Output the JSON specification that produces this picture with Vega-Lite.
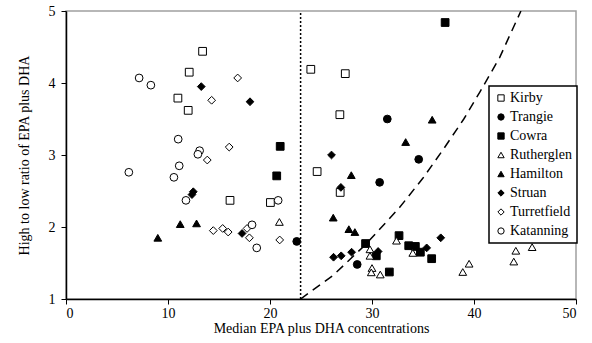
{
  "$schema": "https://vega.github.io/schema/vega-lite/v6.json",
  "width": 510,
  "height": 288,
  "autosize": {"type": "none"},
  "padding": {"left": 66, "top": 11, "right": 16, "bottom": 44},
  "background": "white",
  "config": {
    "view": {"stroke": "#a0a0a0", "strokeWidth": 1.5},
    "font": "Liberation Serif",
    "axis": {
      "grid": false,
      "domainColor": "black",
      "domainWidth": 1.5,
      "tickColor": "black",
      "tickSize": 5,
      "labelFont": "Liberation Serif",
      "titleFont": "Liberation Serif",
      "labelFontSize": 14,
      "titleFontSize": 14,
      "titleFontWeight": "normal",
      "labelColor": "black",
      "titleColor": "black"
    },
    "legend": {
      "labelFont": "Liberation Serif",
      "labelFontSize": 14,
      "labelColor": "black",
      "strokeColor": "black",
      "strokeWidth": 1.5,
      "fillColor": "white",
      "padding": 5,
      "rowPadding": 5,
      "symbolSize": 40,
      "symbolStrokeWidth": 1,
      "labelOffset": 2
    }
  },
  "datasets": {
    "curve": [
      {"x": 23, "y": 1},
      {"x": 26.2, "y": 1.33},
      {"x": 29.4, "y": 1.76},
      {"x": 32.7, "y": 2.27},
      {"x": 35, "y": 2.68},
      {"x": 37, "y": 3.08},
      {"x": 39, "y": 3.5},
      {"x": 40.6, "y": 3.88},
      {"x": 42.5, "y": 4.35},
      {"x": 44.6, "y": 5.0}
    ],
    "pts": [
      {"site": "Kirby", "x": 13.39, "y": 4.44},
      {"site": "Kirby", "x": 12.08, "y": 4.15},
      {"site": "Kirby", "x": 10.97, "y": 3.79},
      {"site": "Kirby", "x": 11.98, "y": 3.62},
      {"site": "Kirby", "x": 16.08, "y": 2.37},
      {"site": "Kirby", "x": 24.0, "y": 4.19},
      {"site": "Kirby", "x": 27.38, "y": 4.13},
      {"site": "Kirby", "x": 26.85, "y": 3.56},
      {"site": "Kirby", "x": 24.62, "y": 2.77},
      {"site": "Kirby", "x": 26.88, "y": 2.48},
      {"site": "Kirby", "x": 20.04, "y": 2.34},
      {"site": "Trangie", "x": 31.5, "y": 3.5},
      {"site": "Trangie", "x": 34.58, "y": 2.94},
      {"site": "Trangie", "x": 30.75, "y": 2.62},
      {"site": "Trangie", "x": 22.62, "y": 1.8},
      {"site": "Trangie", "x": 28.55, "y": 1.48},
      {"site": "Cowra", "x": 37.17, "y": 4.84},
      {"site": "Cowra", "x": 21.0, "y": 3.12},
      {"site": "Cowra", "x": 20.66, "y": 2.71},
      {"site": "Cowra", "x": 29.37, "y": 1.77},
      {"site": "Cowra", "x": 30.42, "y": 1.6},
      {"site": "Cowra", "x": 31.7, "y": 1.375},
      {"site": "Cowra", "x": 32.65, "y": 1.88},
      {"site": "Cowra", "x": 33.6, "y": 1.74},
      {"site": "Cowra", "x": 34.25, "y": 1.73},
      {"site": "Cowra", "x": 34.74, "y": 1.65},
      {"site": "Cowra", "x": 35.85, "y": 1.56},
      {"site": "Rutherglen", "x": 20.92, "y": 2.07},
      {"site": "Rutherglen", "x": 29.8, "y": 1.69},
      {"site": "Rutherglen", "x": 29.8, "y": 1.6},
      {"site": "Rutherglen", "x": 30.0, "y": 1.43},
      {"site": "Rutherglen", "x": 29.93, "y": 1.37},
      {"site": "Rutherglen", "x": 30.81, "y": 1.34},
      {"site": "Rutherglen", "x": 32.4, "y": 1.81},
      {"site": "Rutherglen", "x": 34.0, "y": 1.64},
      {"site": "Rutherglen", "x": 39.52, "y": 1.49},
      {"site": "Rutherglen", "x": 38.9, "y": 1.375},
      {"site": "Rutherglen", "x": 43.9, "y": 1.52},
      {"site": "Rutherglen", "x": 44.1, "y": 1.67},
      {"site": "Rutherglen", "x": 45.7, "y": 1.72},
      {"site": "Hamilton", "x": 9.0, "y": 1.85},
      {"site": "Hamilton", "x": 11.2, "y": 2.04},
      {"site": "Hamilton", "x": 12.8, "y": 2.05},
      {"site": "Hamilton", "x": 35.9, "y": 3.49},
      {"site": "Hamilton", "x": 33.3, "y": 3.18},
      {"site": "Hamilton", "x": 27.97, "y": 2.72},
      {"site": "Hamilton", "x": 26.2, "y": 2.13},
      {"site": "Hamilton", "x": 27.73, "y": 1.97},
      {"site": "Hamilton", "x": 28.32, "y": 1.93},
      {"site": "Struan", "x": 13.26, "y": 3.95},
      {"site": "Struan", "x": 18.04, "y": 3.74},
      {"site": "Struan", "x": 12.48, "y": 2.49},
      {"site": "Struan", "x": 12.35, "y": 2.45},
      {"site": "Struan", "x": 17.26, "y": 1.91},
      {"site": "Struan", "x": 26.03, "y": 3.0},
      {"site": "Struan", "x": 26.95, "y": 2.55},
      {"site": "Struan", "x": 26.23, "y": 1.58},
      {"site": "Struan", "x": 26.98, "y": 1.6},
      {"site": "Struan", "x": 28.0, "y": 1.65},
      {"site": "Struan", "x": 30.6, "y": 1.66},
      {"site": "Struan", "x": 35.36, "y": 1.71},
      {"site": "Struan", "x": 36.74, "y": 1.85},
      {"site": "Turretfield", "x": 16.83, "y": 4.07},
      {"site": "Turretfield", "x": 14.28, "y": 3.76},
      {"site": "Turretfield", "x": 16.0, "y": 3.11},
      {"site": "Turretfield", "x": 13.85, "y": 2.93},
      {"site": "Turretfield", "x": 14.44, "y": 1.95},
      {"site": "Turretfield", "x": 15.36, "y": 1.98},
      {"site": "Turretfield", "x": 15.9, "y": 1.93},
      {"site": "Turretfield", "x": 17.75, "y": 1.98},
      {"site": "Turretfield", "x": 17.98, "y": 1.85},
      {"site": "Turretfield", "x": 20.95, "y": 1.82},
      {"site": "Katanning", "x": 7.17, "y": 4.07},
      {"site": "Katanning", "x": 8.32, "y": 3.97},
      {"site": "Katanning", "x": 11.0, "y": 3.22},
      {"site": "Katanning", "x": 13.1, "y": 3.06},
      {"site": "Katanning", "x": 12.93, "y": 3.01},
      {"site": "Katanning", "x": 6.16, "y": 2.76},
      {"site": "Katanning", "x": 11.1, "y": 2.85},
      {"site": "Katanning", "x": 10.58, "y": 2.69},
      {"site": "Katanning", "x": 11.76, "y": 2.37},
      {"site": "Katanning", "x": 18.24, "y": 2.03},
      {"site": "Katanning", "x": 18.7, "y": 1.71},
      {"site": "Katanning", "x": 20.8, "y": 2.37}
    ]
  },
  "layer": [
    {
      "data": {"values": [{"x": 23, "y": 1, "y2": 5}]},
      "mark": {"type": "rule", "strokeDash": [2, 2], "strokeWidth": 1.5, "color": "black"},
      "encoding": {
        "x": {"field": "x", "type": "quantitative", "scale": {"domain": [0, 50], "nice": false}, "axis": {"title": "Median EPA plus DHA concentrations", "values": [0, 10, 20, 30, 40, 50], "labelPadding": 2, "titlePadding": 1}},
        "y": {"field": "y", "type": "quantitative", "scale": {"domain": [1, 5], "nice": false, "zero": false}, "axis": {"title": "High to low ratio of EPA plus DHA", "values": [1, 1.5, 2, 2.5, 3, 3.5, 4, 4.5, 5], "format": "~g", "labelPadding": 6, "titlePadding": 17}},
        "y2": {"field": "y2"}
      }
    },
    {
      "data": {"name": "curve"},
      "mark": {"type": "line", "strokeDash": [9, 6], "color": "black", "strokeWidth": 1.5, "clip": true},
      "encoding": {
        "x": {"field": "x", "type": "quantitative"},
        "y": {"field": "y", "type": "quantitative"}
      }
    },
    {
      "data": {"name": "pts"},
      "mark": {"type": "point", "filled": true, "size": 60, "strokeWidth": 1, "opacity": 1},
      "encoding": {
        "x": {"field": "x", "type": "quantitative"},
        "y": {"field": "y", "type": "quantitative"},
        "shape": {
          "field": "site", "type": "nominal",
          "scale": {"domain": ["Kirby", "Trangie", "Cowra", "Rutherglen", "Hamilton", "Struan", "Turretfield", "Katanning"],
                    "range": ["square", "circle", "square", "triangle-up", "triangle-up", "diamond", "diamond", "circle"]},
          "legend": {"title": null, "orient": "none", "legendX": 423, "legendY": 75, "strokeColor": "black", "fillColor": "white",
                     "encode": {"legend": {"stroke": {"value": "black"}, "strokeWidth": {"value": 1.5}, "fill": {"value": "white"}, "width": {"value": 86}, "height": {"value": 152}}}}
        },
        "fill": {
          "field": "site", "type": "nominal",
          "scale": {"domain": ["Kirby", "Trangie", "Cowra", "Rutherglen", "Hamilton", "Struan", "Turretfield", "Katanning"],
                    "range": ["white", "black", "black", "white", "black", "black", "white", "white"]},
          "legend": {"title": null, "orient": "none", "legendX": 423, "legendY": 75, "strokeColor": "black", "fillColor": "white",
                     "encode": {"legend": {"stroke": {"value": "black"}, "strokeWidth": {"value": 1.5}, "fill": {"value": "white"}, "width": {"value": 86}, "height": {"value": 152}}}}
        },
        "stroke": {
          "field": "site", "type": "nominal",
          "scale": {"domain": ["Kirby", "Trangie", "Cowra", "Rutherglen", "Hamilton", "Struan", "Turretfield", "Katanning"],
                    "range": ["black", "black", "black", "black", "black", "black", "black", "black"]},
          "legend": {"title": null, "orient": "none", "legendX": 423, "legendY": 75, "strokeColor": "black", "fillColor": "white",
                     "encode": {"legend": {"stroke": {"value": "black"}, "strokeWidth": {"value": 1.5}, "fill": {"value": "white"}, "width": {"value": 86}, "height": {"value": 152}}}}
        }
      }
    }
  ]
}
